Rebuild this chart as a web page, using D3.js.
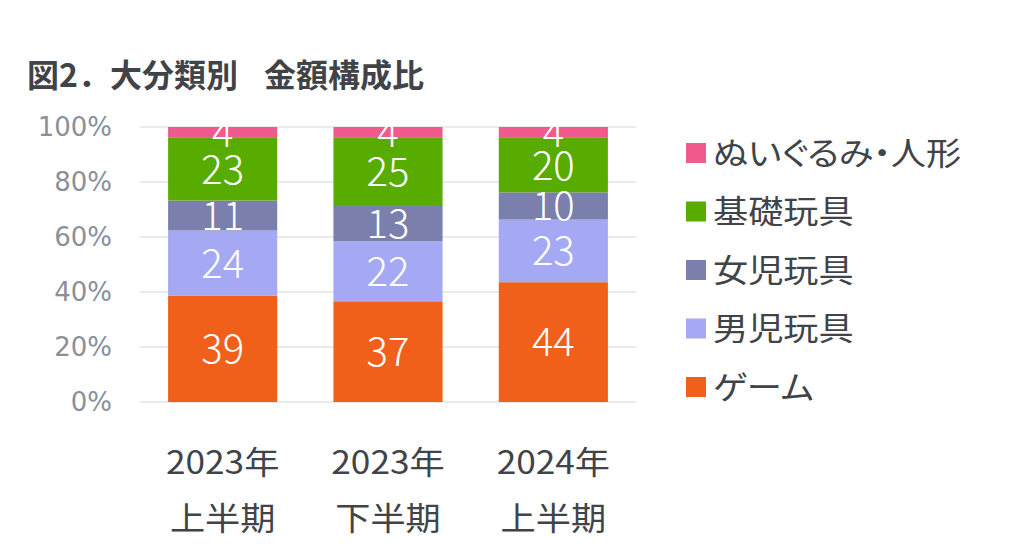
<!DOCTYPE html>
<html>
<head>
<meta charset="utf-8">
<script src="https://cdn.jsdelivr.net/npm/d3@7"></script>
<style>
  body { margin: 0; background: #fff; }
  text { font-family: "Noto Sans CJK JP", "Noto Sans", sans-serif; }
</style>
</head>
<body>
<div id="chart"></div>
<script>
// data
var periods = [["2023年", "上半期"], ["2023年", "下半期"], ["2024年", "上半期"]];
var series = ["ゲーム", "男児玩具", "女児玩具", "基礎玩具", "ぬいぐるみ・人形"];
var colors = ["#f0601a", "#a5a8f3", "#7b7fab", "#58ac00", "#f05a8c"];
var game  = [39, 37, 44];
var boys  = [24, 22, 23];
var girls = [11, 13, 10];
var basic = [23, 25, 20];
var plush = [4, 4, 4];
var yTicks = [0, 0.2, 0.4, 0.6, 0.8, 1];

var width = 1024, height = 553;
var textColor = "#404448";
var svg = d3.select("#chart").append("svg")
  .attr("width", width).attr("height", height);

// build rows for the stack
var cols = [game, boys, girls, basic, plush];
var rows = periods.map(function(p, i) {
  var r = { key: i };
  series.forEach(function(s, j) { r[s] = cols[j][i]; });
  return r;
});
var stack = d3.stack().keys(series).offset(d3.stackOffsetExpand);
var layers = stack(rows);

var x = d3.scaleBand().domain([0, 1, 2]).range([140, 636]).paddingInner(0.34).paddingOuter(0.17);
var y = d3.scaleLinear().domain([0, 1]).range([402, 127]);

// title
var title = svg.append("text")
  .attr("y", 87)
  .attr("font-size", 32).attr("font-weight", "bold")
  .attr("fill", textColor);
title.append("tspan").attr("x", 27).text("図2．大分類別");
title.append("tspan").attr("x", 264).text("金額構成比");

// gridlines
svg.selectAll("line.grid").data(yTicks).enter().append("line")
  .attr("x1", 140).attr("x2", 636)
  .attr("y1", function(d) { return y(d); })
  .attr("y2", function(d) { return y(d); })
  .attr("stroke", "#e3e3e3").attr("stroke-width", 1.5);

// y labels
svg.selectAll("text.ytick").data(yTicks).enter().append("text")
  .attr("x", 112).attr("y", function(d) { return y(d); })
  .attr("dy", "0.36em")
  .attr("text-anchor", "end")
  .style("font-family", "'DejaVu Sans', sans-serif")
  .attr("font-size", 26).attr("fill", "#8a9099")
  .text(d3.format(".0%"));

// bars
var g = svg.selectAll("g.layer").data(layers).enter().append("g")
  .attr("fill", function(d, i) { return colors[i]; });
g.selectAll("rect").data(function(d) { return d; }).enter().append("rect")
  .attr("x", function(d, i) { return x(i); })
  .attr("width", x.bandwidth())
  .attr("y", function(d) { return y(d[1]); })
  .attr("height", function(d) { return y(d[0]) - y(d[1]); });

// value labels
layers.forEach(function(layer, j) {
  svg.selectAll(null).data(layer).enter().append("text")
    .attr("x", function(d, i) { return x(i) + x.bandwidth() / 2; })
    .attr("y", function(d) { return (y(d[0]) + y(d[1])) / 2; })
    .attr("dy", "0.36em")
    .attr("text-anchor", "middle")
    .attr("font-size", 40).attr("font-weight", 300).attr("fill", "#fff")
    .text(function(d, i) { return cols[j][i]; });
});

// x labels (the source text is a bit wide, so stretch horizontally)
periods.forEach(function(p, i) {
  var cx = x(i) + x.bandwidth() / 2;
  [474, 530].forEach(function(ty, k) {
    svg.append("text")
      .attr("transform", "translate(" + cx + "," + ty + ") scale(1.1,1)")
      .attr("text-anchor", "middle")
      .attr("font-size", 32).attr("fill", textColor)
      .text(p[k]);
  });
});

// legend, top entry is last series
var legendOrder = series.slice().reverse();
var lg = svg.selectAll("g.legend").data(legendOrder).enter().append("g")
  .attr("transform", function(d, i) { return "translate(686," + (153 + i * 58.5) + ")"; });
lg.append("rect")
  .attr("x", 0).attr("y", -10).attr("width", 20).attr("height", 20)
  .attr("fill", function(d) { return colors[series.indexOf(d)]; });
lg.append("text")
  .attr("transform", "translate(27,0) scale(1.1,1)")
  .attr("dy", "0.36em")
  .style("font-feature-settings", "'palt'")
  .attr("font-size", 32).attr("fill", textColor)
  .text(function(d) { return d; });
</script>
</body>
</html>
